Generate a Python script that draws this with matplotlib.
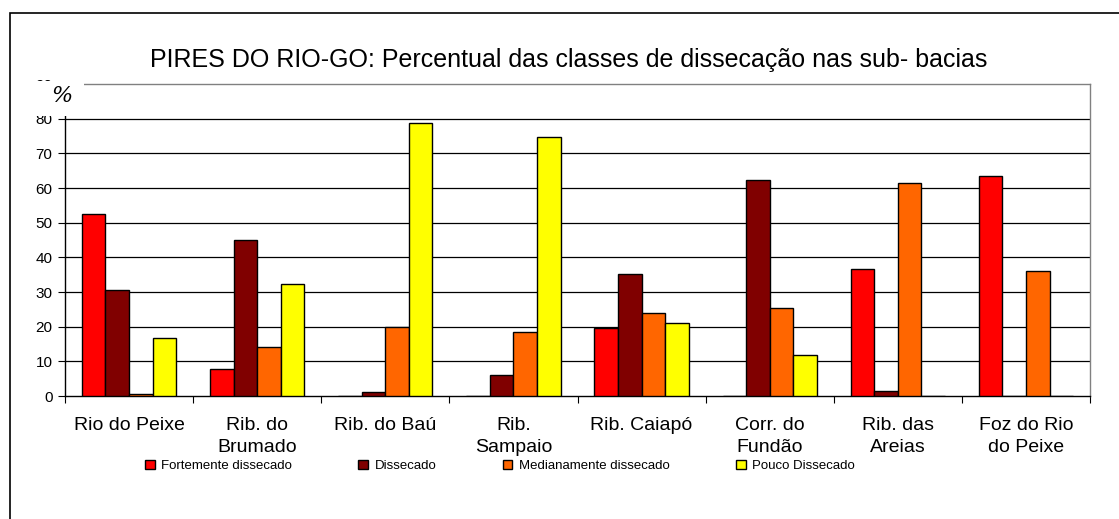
import matplotlib
matplotlib.use("Agg")
import matplotlib.pyplot as plt
from matplotlib.patches import Rectangle
import numpy as np

plt.rcParams['font.family'] = ['Liberation Sans', 'DejaVu Sans']

categories = ["Rio do Peixe", "Rib. do\nBrumado", "Rib. do Baú", "Rib.\nSampaio",
              "Rib. Caiapó", "Corr. do\nFundão", "Rib. das\nAreias", "Foz do Rio\ndo Peixe"]
series_names = ["Fortemente dissecado", "Dissecado", "Medianamente dissecado", "Pouco Dissecado"]
fortemente = [52.4, 7.9, 0.0, 0.0, 19.5, 0.0, 36.7, 63.5]
dissecado = [30.6, 45.0, 1.1, 6.2, 35.2, 62.3, 1.4, 0.0]
medianamente = [0.5, 14.2, 19.9, 18.6, 23.9, 25.5, 61.5, 36.2]
pouco = [16.6, 32.4, 78.8, 74.7, 21.0, 11.8, 0.0, 0.0]
colors = ["#FF0000", "#800000", "#FF6600", "#FFFF00"]
yticks = [0, 10, 20, 30, 40, 50, 60, 70, 80, 90]
title = "PIRES DO RIO-GO: Percentual das classes de dissecação nas sub- bacias"

W, H = 1119, 519
fig = plt.figure(figsize=(W / 100, H / 100), dpi=100)

def fx(px):
    return px / W

def fy(py):
    return 1 - py / H

ax = fig.add_axes([fx(65), fy(396), fx(1090) - fx(65), fy(84) - fy(396)])

x = np.arange(len(categories))
bw = 0.184
all_series = [fortemente, dissecado, medianamente, pouco]
for i, (vals, name, c) in enumerate(zip(all_series, series_names, colors)):
    ax.bar(x + (i - 1.5) * bw, vals, width=bw, color=c, edgecolor="black",
           linewidth=1.0, label=name, zorder=3)

ax.set_xlim(-0.5, len(categories) - 0.5)
ax.set_ylim(0, 90)
ax.set_yticks(yticks)
ax.set_yticklabels([str(v) for v in yticks], fontsize=11)
for v in yticks[1:-1]:
    ax.axhline(v, color="black", linewidth=0.9, zorder=1)

ax.set_xticks(np.arange(len(categories) + 1) - 0.5)
ax.set_xticklabels([])
ax.set_xticks(x, minor=True)
ax.set_xticklabels(categories, minor=True, fontsize=14, linespacing=1.38)
ax.tick_params(axis="x", which="minor", length=0, pad=15)
ax.tick_params(axis="x", which="major", length=5, direction="out", color="black")
ax.tick_params(axis="y", length=5, direction="out", pad=4)

ax.spines["left"].set_color("black")
ax.spines["bottom"].set_color("black")
ax.spines["top"].set_color("#808080")
ax.spines["right"].set_color("#808080")
for s in ax.spines.values():
    s.set_linewidth(1.0)

fig.text(fx(569), fy(60), title, ha="center", va="center", fontsize=18)

# y-axis unit label with white box covering top tick label
fig.add_artist(Rectangle((fx(30), fy(116)), fx(84) - fx(30), fy(81) - fy(116),
                         transform=fig.transFigure, facecolor="white",
                         edgecolor="none", zorder=10))
fig.text(fx(62), fy(96), "%", ha="center", va="center", fontsize=16,
         family="DejaVu Serif", style="italic", zorder=11)

# outer frame
fig.add_artist(Rectangle((fx(10), fy(530)), fx(1130) - fx(10), fy(13) - fy(530),
                         transform=fig.transFigure, facecolor="none",
                         edgecolor="black", linewidth=1.2, zorder=12))

ax.legend(loc="center", bbox_to_anchor=(fx(500), fy(466)),
          bbox_transform=fig.transFigure, ncol=4, frameon=False, fontsize=9.5,
          handlelength=0.75, handleheight=0.75, handletextpad=0.5,
          columnspacing=5.0)

fig.savefig("out.png", dpi=100)
